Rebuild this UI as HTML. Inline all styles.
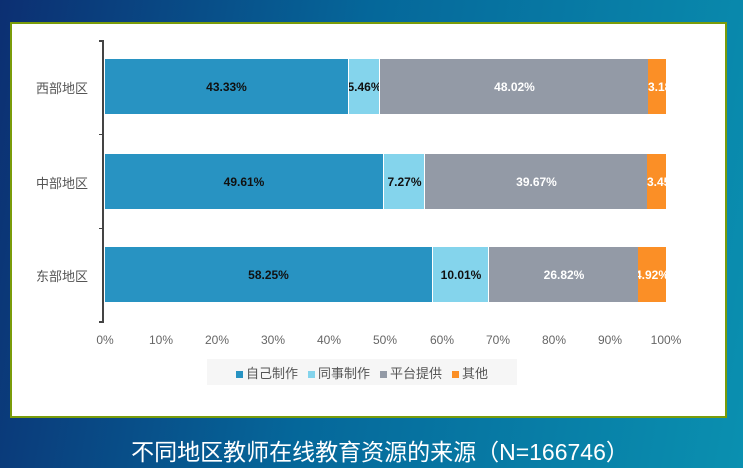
<!DOCTYPE html>
<html><head><meta charset="utf-8"><style>
body{margin:0;width:743px;height:468px;overflow:hidden;background:linear-gradient(100deg,#0c2f72 0%,#05679a 45%,#0a90b0 100%);font-family:"Liberation Sans","Noto Sans CJK SC",sans-serif;position:relative}
.panel{position:absolute;left:10px;top:22px;width:713px;height:392px;background:#fff;border:2px solid #7a9c0a}
.a{position:absolute}
.bar{position:absolute;height:55px;font-size:12px;font-weight:bold;display:flex;align-items:center;justify-content:center;white-space:nowrap;overflow:hidden}
.lab{position:absolute;font-size:13px;color:#555}
.tick{position:absolute;top:333px;font-size:12px;color:#666;width:40px;margin-left:-20px;text-align:center}
</style></head><body>
<div class="panel"></div>
<div class="a" style="left:102px;top:40px;width:2px;height:283px;background:#444"></div>
<div class="a" style="left:99px;top:40px;width:4px;height:2px;background:#444"></div>
<div class="a" style="left:99px;top:321px;width:4px;height:2px;background:#444"></div>
<div class="a" style="left:99px;top:134px;width:4px;height:1px;background:#444"></div>
<div class="a" style="left:99px;top:228px;width:4px;height:1px;background:#444"></div>
<div class="lab" style="left:36px;top:78px">西部地区</div>
<div class="lab" style="left:36px;top:173px">中部地区</div>
<div class="lab" style="left:36px;top:266px">东部地区</div>

<div class="bar" style="top:59px;left:105px;width:243px;background:#2893c2;color:#111">43.33%</div>
<div class="bar" style="top:59px;left:348px;width:31px;background:#84d4ec;color:#111;border-left:1px solid #fff">5.46%</div>
<div class="bar" style="top:59px;left:379px;width:269px;background:#939aa6;color:#fff;border-left:1px solid #fff">48.02%</div>
<div class="bar" style="top:59px;left:648px;width:18px;background:#fb8f26;color:#fff;justify-content:flex-start">3.18%</div>

<div class="bar" style="top:154px;left:105px;width:278px;background:#2893c2;color:#111">49.61%</div>
<div class="bar" style="top:154px;left:383px;width:41px;background:#84d4ec;color:#111;border-left:1px solid #fff">7.27%</div>
<div class="bar" style="top:154px;left:424px;width:223px;background:#939aa6;color:#fff;border-left:1px solid #fff">39.67%</div>
<div class="bar" style="top:154px;left:647px;width:19px;background:#fb8f26;color:#fff;justify-content:flex-start">3.45%</div>

<div class="bar" style="top:247px;left:105px;width:327px;background:#2893c2;color:#111">58.25%</div>
<div class="bar" style="top:247px;left:432px;width:56px;background:#84d4ec;color:#111;border-left:1px solid #fff">10.01%</div>
<div class="bar" style="top:247px;left:488px;width:150px;background:#939aa6;color:#fff;border-left:1px solid #fff">26.82%</div>
<div class="bar" style="top:247px;left:638px;width:28px;background:#fb8f26;color:#fff">4.92%</div>

<div class="tick" style="left:105px">0%</div><div class="tick" style="left:161px">10%</div><div class="tick" style="left:217px">20%</div><div class="tick" style="left:273px">30%</div><div class="tick" style="left:329px">40%</div><div class="tick" style="left:385px">50%</div><div class="tick" style="left:442px">60%</div><div class="tick" style="left:498px">70%</div><div class="tick" style="left:554px">80%</div><div class="tick" style="left:610px">90%</div><div class="tick" style="left:666px">100%</div>

<div class="a" style="left:207px;top:359px;width:310px;height:26px;background:#f6f6f6;font-size:13px;color:#555;display:flex;align-items:center;justify-content:center;gap:10px">
<span><span style="display:inline-block;width:7px;height:7px;background:#2893c2;margin-right:3px"></span>自己制作</span>
<span><span style="display:inline-block;width:7px;height:7px;background:#84d4ec;margin-right:3px"></span>同事制作</span>
<span><span style="display:inline-block;width:7px;height:7px;background:#939aa6;margin-right:3px"></span>平台提供</span>
<span><span style="display:inline-block;width:7px;height:7px;background:#fb8f26;margin-right:3px"></span>其他</span>
</div>
<div class="a" style="left:0;width:760px;top:433px;text-align:center;color:#fff;font-size:23px">不同地区教师在线教育资源的来源（N=166746）</div>
</body></html>
